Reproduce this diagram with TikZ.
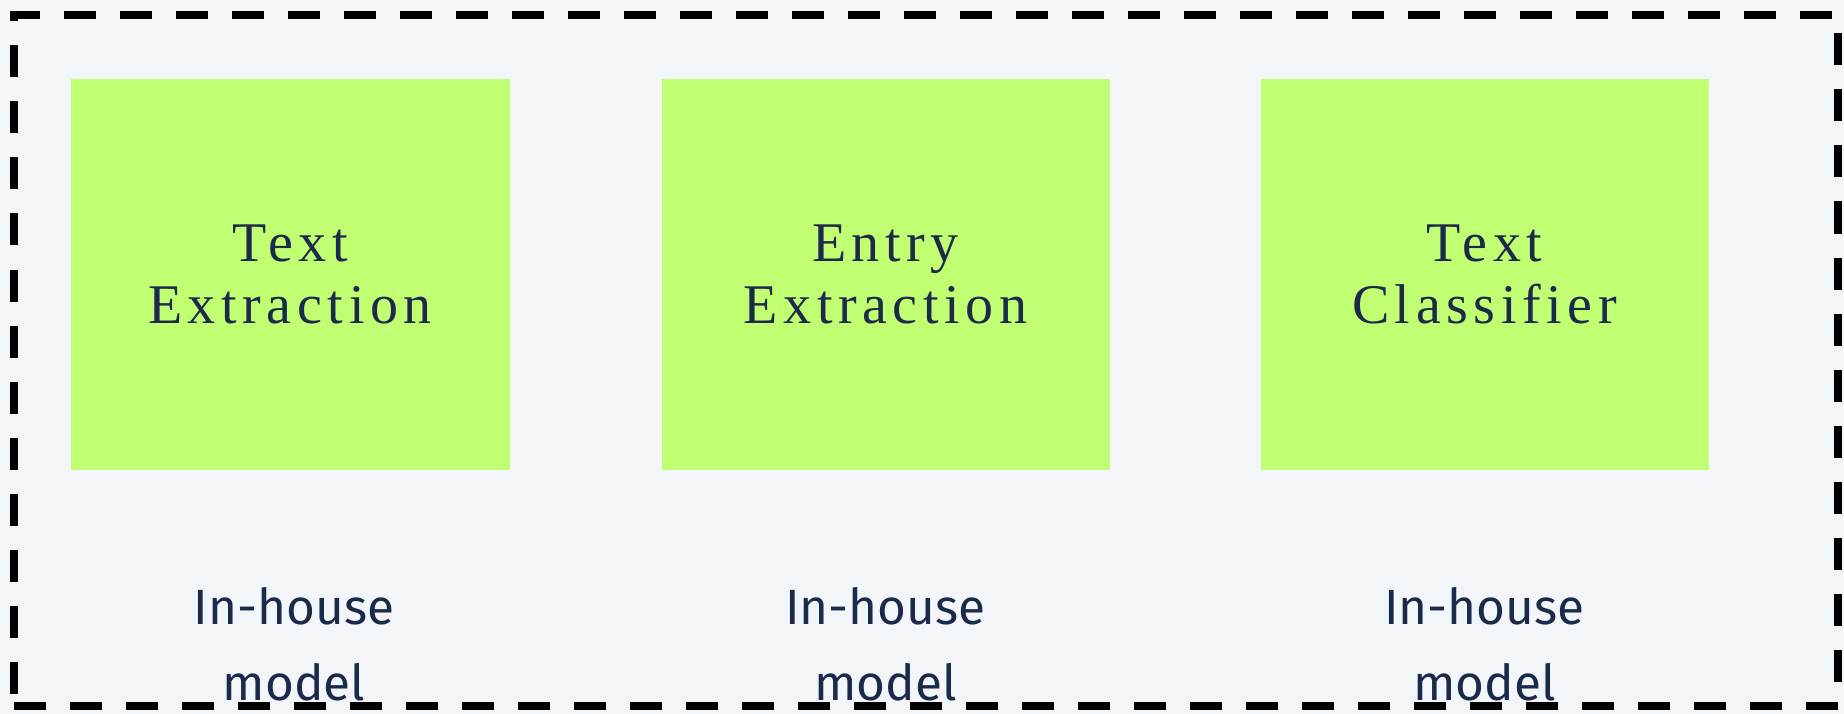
\documentclass[tikz,border=0pt]{standalone}
\usepackage{fontspec}
\setmainfont{Liberation Serif}
\newfontfamily\stagefont{Liberation Serif}[LetterSpace=10]
\newfontfamily\notefont{Fira Sans}
\usetikzlibrary{positioning}
\definecolor{pagebg}{HTML}{F3F6F9}
\definecolor{lime}{HTML}{C1FF72}
\definecolor{ink}{HTML}{1B2A4A}

\begin{document}
\begin{tikzpicture}[x=1pt, y=-1pt]
  \tikzstyle{stage} = [rectangle, fill=lime, text=ink, align=center, inner sep=0pt, outer sep=0pt,
                       minimum width=448pt, minimum height=391pt,
                       font={\stagefont\fontsize{56pt}{62pt}\selectfont}]
  \tikzstyle{note} = [text=ink, align=center, inner sep=0pt, outer sep=0pt,
                      font={\notefont\fontsize{49.5pt}{76pt}\selectfont}]
  \fill[pagebg] (0,0) rectangle (1844,714);
  \useasboundingbox (0,0) rectangle (1844,714);
  \node[stage, minimum width=439pt] (textex) at (290,274.5) {Text\\Extraction};
  \node[stage, right=152pt of textex] (entryex) {Entry\\Extraction};
  \node[stage, right=151pt of entryex] (classif) {Text\\Classifier};
  \node[draw, line width=8pt, dash pattern=on 32pt off 24pt, inner sep=0pt,
        minimum width=1824pt, minimum height=690pt] (frame) at (926,360.5) {};
  \node[note, below=117pt of textex, xshift=4pt] (modA) {In-house\\model};
  \node[note, below=117pt of entryex] (modB) {In-house\\model};
  \node[note, below=117pt of classif] (modC) {In-house\\model};
\end{tikzpicture}
\end{document}
